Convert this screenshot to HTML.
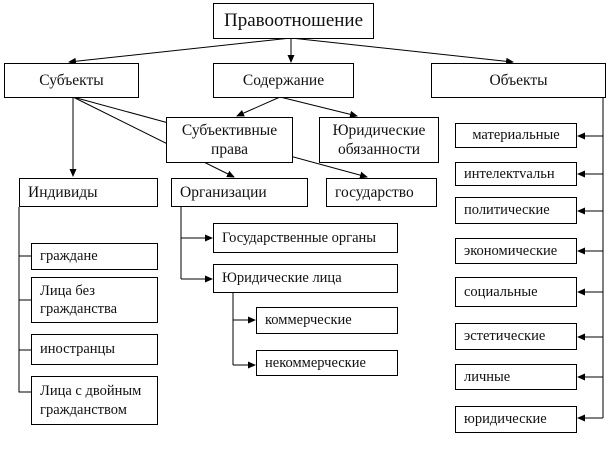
<!DOCTYPE html><html><head><meta charset="utf-8"><style>
body{margin:0;width:609px;height:449px;background:#fff;overflow:hidden;position:relative;font-family:"Liberation Serif",serif;color:#111}
.b{position:absolute;border:1px solid #000;background:#fff;box-sizing:border-box;font-size:14.5px;display:flex;align-items:center;line-height:1.25;white-space:nowrap}
.c{justify-content:center;text-align:center}
.l{padding-left:8px}
.m{font-size:15.5px}
svg{position:absolute;left:0;top:0}
</style></head><body>
<svg width="609" height="449"><defs><marker id="a" markerWidth="8" markerHeight="8" refX="7" refY="4" orient="auto" markerUnits="userSpaceOnUse"><path d="M0,0.5L8,4L0,7.5z" fill="#000"/></marker></defs>
<g stroke="#000" stroke-width="1" fill="none">
<line x1="291" y1="38" x2="69" y2="62" marker-end="url(#a)"/>
<line x1="291" y1="38" x2="291" y2="62" marker-end="url(#a)"/>
<line x1="291" y1="38" x2="513" y2="62" marker-end="url(#a)"/>
<line x1="73" y1="97" x2="73" y2="176" marker-end="url(#a)"/>
<line x1="73" y1="97" x2="367" y2="177" marker-end="url(#a)"/>
<line x1="73" y1="97" x2="234" y2="177" marker-end="url(#a)"/>
<line x1="280" y1="97" x2="237" y2="116" marker-end="url(#a)"/>
<line x1="280" y1="97" x2="357" y2="116" marker-end="url(#a)"/>
<polyline points="19,207 19,392 31,392"/>
<line x1="19" y1="256" x2="31" y2="256"/><line x1="19" y1="300" x2="31" y2="300"/><line x1="19" y1="350" x2="31" y2="350"/>
<polyline points="181,207 181,279"/>
<line x1="181" y1="238" x2="212" y2="238" marker-end="url(#a)"/>
<line x1="181" y1="279" x2="212" y2="279" marker-end="url(#a)"/>
<line x1="233" y1="293" x2="233" y2="365"/>
<line x1="233" y1="320" x2="255" y2="320" marker-end="url(#a)"/>
<line x1="233" y1="365" x2="255" y2="365" marker-end="url(#a)"/>
<line x1="603" y1="97" x2="603" y2="418"/>
<g marker-end="url(#a)">
<line x1="603" y1="136" x2="578" y2="136"/><line x1="603" y1="174" x2="578" y2="174"/><line x1="603" y1="211" x2="578" y2="211"/><line x1="603" y1="251" x2="578" y2="251"/><line x1="603" y1="292" x2="578" y2="292"/><line x1="603" y1="337" x2="578" y2="337"/><line x1="603" y1="377" x2="578" y2="377"/><line x1="603" y1="418" x2="578" y2="418"/>
</g></g></svg>
<div class="b c" style="left:213px;top:3px;width:161px;height:36px;font-size:19px">Правоотношение</div>
<div class="b c m" style="left:4px;top:63px;width:135px;height:35px">Субъекты</div>
<div class="b c m" style="left:213px;top:63px;width:141px;height:35px">Содержание</div>
<div class="b c m" style="left:431px;top:63px;width:175px;height:35px">Объекты</div>
<div class="b c m" style="left:166px;top:117px;width:127px;height:46px">Субъективные<br>права</div>
<div class="b c m" style="left:319px;top:117px;width:120px;height:46px">Юридические<br>обязанности</div>
<div class="b l m" style="left:19px;top:178px;width:139px;height:29px">Индивиды</div>
<div class="b l m" style="left:171px;top:178px;width:137px;height:29px">Организации</div>
<div class="b l m" style="left:326px;top:178px;width:111px;height:29px">государство</div>
<div class="b l" style="left:31px;top:243px;width:127px;height:27px">граждане</div>
<div class="b l" style="left:31px;top:277px;width:127px;height:46px">Лица без<br>гражданства</div>
<div class="b l" style="left:31px;top:334px;width:127px;height:31px">иностранцы</div>
<div class="b l" style="left:31px;top:376px;width:127px;height:49px">Лица с двойным<br>гражданством</div>
<div class="b l" style="left:213px;top:223px;width:185px;height:30px">Государственные органы</div>
<div class="b l" style="left:213px;top:264px;width:185px;height:29px">Юридические лица</div>
<div class="b l" style="left:256px;top:307px;width:142px;height:27px">коммерческие</div>
<div class="b l" style="left:256px;top:350px;width:142px;height:26px">некоммерческие</div>
<div class="b c" style="left:455px;top:123px;width:122px;height:25px">материальные</div>
<div class="b l" style="left:455px;top:162px;width:122px;height:24px">интелектvальн</div>
<div class="b l" style="left:455px;top:197px;width:122px;height:27px">политические</div>
<div class="b l" style="left:455px;top:238px;width:122px;height:26px">экономические</div>
<div class="b l" style="left:455px;top:277px;width:122px;height:30px">социальные</div>
<div class="b l" style="left:455px;top:323px;width:122px;height:27px">эстетические</div>
<div class="b l" style="left:455px;top:364px;width:122px;height:26px">личные</div>
<div class="b l" style="left:455px;top:406px;width:122px;height:27px">юридические</div>
</body></html>
